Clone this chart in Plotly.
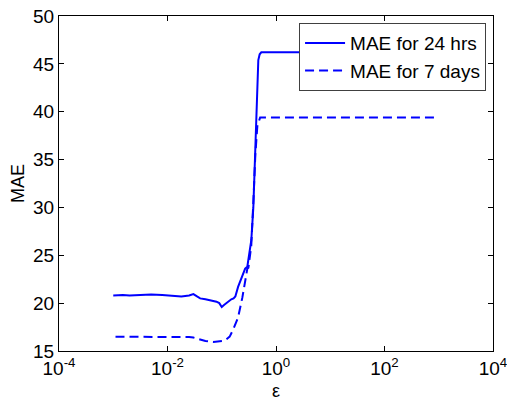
import plotly.graph_objects as go

# Data
eps_24h = [0.001, 0.0015, 0.002, 0.003, 0.005, 0.008, 0.012, 0.018, 0.025, 0.03, 0.035,
           0.04, 0.05, 0.06, 0.07, 0.08, 0.09, 0.1, 0.11, 0.127, 0.15, 0.165, 0.178, 0.2,
           0.22, 0.25, 0.27, 0.296, 0.31, 0.33, 0.351, 0.382, 0.416, 0.453, 0.472, 0.5,
           0.536, 0.6, 1, 10, 100, 1000]
mae_24h = [20.8, 20.85, 20.8, 20.85, 20.9, 20.85, 20.75, 20.7, 20.8, 20.95, 20.7,
           20.5, 20.4, 20.3, 20.2, 20.15, 20.0, 19.6, 19.8, 20.1, 20.4, 20.5, 20.7, 21.7,
           22.3, 23.3, 23.6, 23.8, 24.5, 25.3, 26.6, 30.0, 36.0, 40.5, 45.4, 46.0,
           46.2, 46.2, 46.2, 46.2, 46.2, 46.2]

eps_7d = [0.0011, 0.002, 0.004, 0.008, 0.015, 0.025, 0.03, 0.04, 0.05, 0.07, 0.09,
          0.105, 0.12, 0.14, 0.164, 0.2, 0.24, 0.272, 0.296, 0.31, 0.35, 0.382, 0.416,
          0.453, 0.49, 0.51, 0.6, 1, 10, 100, 1000]
mae_7d = [16.5, 16.5, 16.5, 16.45, 16.45, 16.45, 16.4, 16.2, 16.05, 15.95, 16.0,
          16.05, 16.2, 16.5, 17.3, 18.5, 20.6, 22.7, 23.6, 23.7, 26.0, 30.5, 35.5,
          38.5, 39.2, 39.4, 39.4, 39.4, 39.4, 39.4, 39.4]

x_tickvals = [1e-4, 1e-2, 1, 1e2, 1e4]
x_ticktext = ["10<sup>-4</sup>", "10<sup>-2</sup>", "10<sup>0</sup>", "10<sup>2</sup>", "10<sup>4</sup>"]
y_tickvals = [15, 20, 25, 30, 35, 40, 45, 50]

FONT = "Liberation Sans, Arial, Helvetica, sans-serif"
BLUE = "#0000FF"

fig = go.Figure()
fig.add_trace(go.Scatter(x=eps_24h, y=mae_24h, mode="lines", name="MAE for 24 hrs",
                         line=dict(color=BLUE, width=2)))
fig.add_trace(go.Scatter(x=eps_7d, y=mae_7d, mode="lines", name="MAE for 7 days",
                         line=dict(color=BLUE, width=2, dash="9px,5px")))

fig.update_layout(
    width=507, height=401,
    margin=dict(l=58.5, r=14, t=16, b=50),
    paper_bgcolor="white", plot_bgcolor="white",
    font=dict(family=FONT, size=18, color="black"),
    showlegend=True,
    legend=dict(x=0.984, y=0.979, xanchor="right", yanchor="top",
                bgcolor="white", bordercolor="#404040", borderwidth=1,
                font=dict(family=FONT, size=19, color="black"),
                itemwidth=40, tracegroupgap=0),
)
fig.update_xaxes(
    type="log", range=[-4, 4], automargin=False, ticklabeloverflow="allow",
    tickvals=x_tickvals, ticktext=x_ticktext,
    ticks="inside", ticklen=5, tickcolor="black", tickwidth=1,
    showline=True, linecolor="black", linewidth=1, mirror="ticks",
    showgrid=False, zeroline=False,
    tickfont=dict(family=FONT, size=19, color="black"),
    title=dict(text="ε", font=dict(family=FONT, size=18, color="black"), standoff=12),
)
fig.update_yaxes(
    range=[15, 50], tickvals=y_tickvals, automargin=False, ticklabeloverflow="allow",
    ticks="inside", ticklen=5, tickcolor="black", tickwidth=1,
    showline=True, linecolor="black", linewidth=1, mirror="ticks",
    showgrid=False, zeroline=False,
    tickfont=dict(family=FONT, size=19, color="black"),
    title=dict(text="MAE", font=dict(family=FONT, size=18, color="black"), standoff=3),
)

fig.write_html("out.html")
